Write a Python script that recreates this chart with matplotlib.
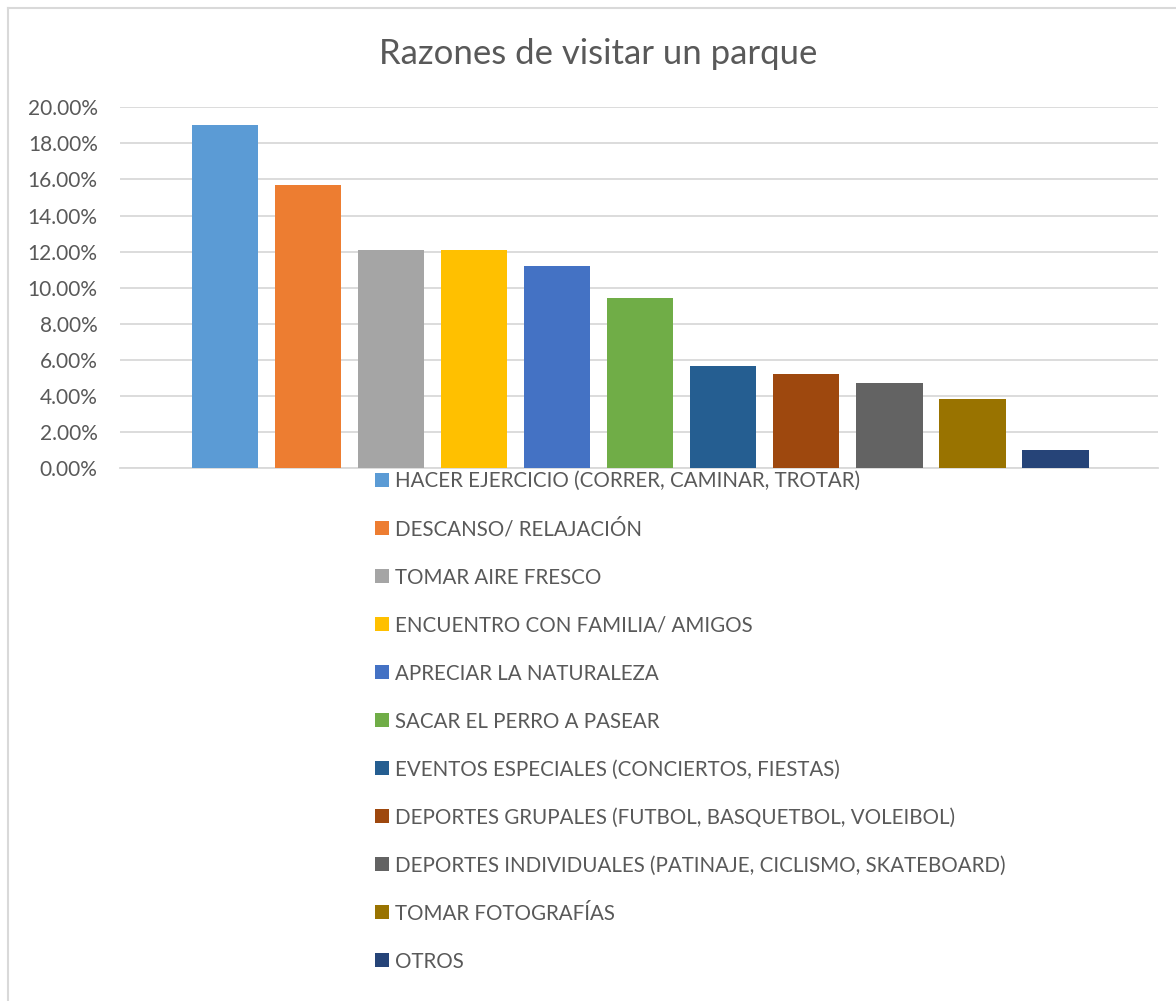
import numpy as np
import matplotlib.pyplot as plt
from matplotlib.patches import Patch
from matplotlib.lines import Line2D

plt.rcParams['font.family'] = ['Lato', 'DejaVu Sans']

# Datos
categorias = ['HACER EJERCICIO (CORRER, CAMINAR, TROTAR)',
              'DESCANSO/ RELAJACIÓN',
              'TOMAR AIRE FRESCO',
              'ENCUENTRO CON FAMILIA/ AMIGOS',
              'APRECIAR LA NATURALEZA',
              'SACAR EL PERRO A PASEAR',
              'EVENTOS ESPECIALES (CONCIERTOS, FIESTAS)',
              'DEPORTES GRUPALES (FUTBOL, BASQUETBOL, VOLEIBOL)',
              'DEPORTES INDIVIDUALES (PATINAJE, CICLISMO, SKATEBOARD)',
              'TOMAR FOTOGRAFÍAS',
              'OTROS']
valores = [19.0, 15.67, 12.08, 12.08, 11.2, 9.43, 5.67, 5.23, 4.73, 3.85, 1.03]
colores = ['#5B9BD5', '#ED7D31', '#A5A5A5', '#FFC000', '#4472C4', '#70AD47',
           '#255E91', '#9E480E', '#636363', '#997300', '#264478']
yticks = np.arange(0, 21, 2)

gris = '#595959'

fig = plt.figure(figsize=(11.76, 10.01), dpi=100)
ax = fig.add_axes([0.102, 0.532, 0.883, 0.361])

x = np.arange(len(valores))
ax.bar(x, valores, width=0.8, color=colores, zorder=3)

ax.set_xlim(-1.265, len(valores) - 1 + 1.24)
ax.set_ylim(0, 20)
ax.set_yticks(yticks)
ax.set_yticklabels([f'{v:.2f}%' for v in yticks], fontsize=15, color=gris)
ax.set_xticks([])
ax.tick_params(axis='y', length=0, pad=16)
ax.grid(axis='y', color='#D9D9D9', linewidth=1.3, zorder=0)
for s in ['top', 'right', 'left']:
    ax.spines[s].set_visible(False)
ax.spines['bottom'].set_color('#D9D9D9')
ax.spines['bottom'].set_linewidth(1.3)

fig.text(0.509, 0.946, 'Razones de visitar un parque', ha='center', va='center',
         fontsize=25, color=gris)

handles = [Patch(facecolor=c, edgecolor='none') for c in colores]
fig.legend(handles, categorias, loc='upper left', bbox_to_anchor=(0.319, 0.5295),
           frameon=False, fontsize=14.8, labelcolor=gris, handlelength=0.68,
           handleheight=0.68, handletextpad=0.3, labelspacing=1.363,
           borderpad=0, borderaxespad=0)

# borde del grafico (solo arriba e izquierda)
fig.lines.append(Line2D([0.007, 1.0], [0.992, 0.992], transform=fig.transFigure,
                        color='#D9D9D9', linewidth=1.5))
fig.lines.append(Line2D([0.007, 0.007], [0.0, 0.992], transform=fig.transFigure,
                        color='#D9D9D9', linewidth=1.5))

fig.savefig('out.png', dpi=100)
